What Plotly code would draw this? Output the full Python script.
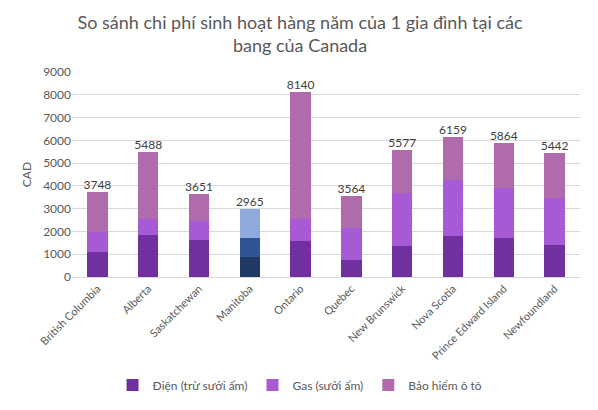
import plotly.graph_objects as go

provinces = ["British Columbia", "Alberta", "Saskatchewan", "Manitoba", "Ontario",
             "Quebec", "New Brunswick", "Nova Scotia", "Prince Edward Island", "Newfoundland"]
electricity = [1110, 1860, 1640, 890, 1590, 760, 1370, 1810, 1730, 1420]
gas = [860, 700, 830, 830, 960, 1400, 2330, 2460, 2190, 2060]
totals = [3748, 5488, 3651, 2965, 8140, 3564, 5577, 6159, 5864, 5442]
insurance = [t - e - g for t, e, g in zip(totals, electricity, gas)]

series_names = ["Điện (trừ sưởi ấm)", "Gas (sưởi ấm)", "Bảo hiểm ô tô"]
purple = ["#7030A0", "#A65AD3", "#B06BAC"]
# Manitoba is drawn in blues in the original
manitoba = ["#203864", "#2F5597", "#8FAADC"]

def colors_for(i):
    return [manitoba[i] if p == "Manitoba" else purple[i] for p in provinces]

fig = go.Figure()
for i, vals in enumerate([electricity, gas, insurance]):
    fig.add_trace(go.Bar(x=provinces, y=vals, name=series_names[i], width=0.4,
                         marker=dict(color=colors_for(i), line_width=0)))

fig.add_trace(go.Scatter(x=provinces, y=totals, mode="text", text=[str(t) for t in totals],
                         textposition="top center", textfont=dict(size=12, color="#404040"),
                         showlegend=False, hoverinfo="skip"))

# page body adds an 8px offset, so the figure is a bit smaller than the window
fig.update_layout(
    width=590, height=402,
    barmode="stack",
    font=dict(family="Lato, Carlito, sans-serif", color="#595959"),
    title=dict(text="So sánh chi phí sinh hoạt hàng năm của 1 gia đình tại các<br>bang của Canada",
               x=0.495, xref="container", xanchor="center", y=0.948, yanchor="top",
               font=dict(size=18, color="#595959")),
    margin=dict(l=64, r=18, t=64, b=133),
    plot_bgcolor="white", paper_bgcolor="white",
    bargap=0.6,
    legend=dict(orientation="h", xref="container", yref="container", x=0.495, xanchor="center",
                y=0.062, yanchor="middle", font=dict(size=12, color="#595959"),
                itemwidth=30, traceorder="normal"),
    xaxis=dict(tickangle=-45, tickfont=dict(size=11, color="#595959"), showline=True,
               linecolor="#d9d9d9", ticks="", automargin=False),
    yaxis=dict(range=[0, 9000], dtick=1000, gridcolor="#d9d9d9", zeroline=False,
               tickfont=dict(size=12, color="#595959"), automargin=False,
               title=dict(text="CAD", font=dict(size=12, color="#595959"), standoff=8)),
)

fig.write_html("out.html")
